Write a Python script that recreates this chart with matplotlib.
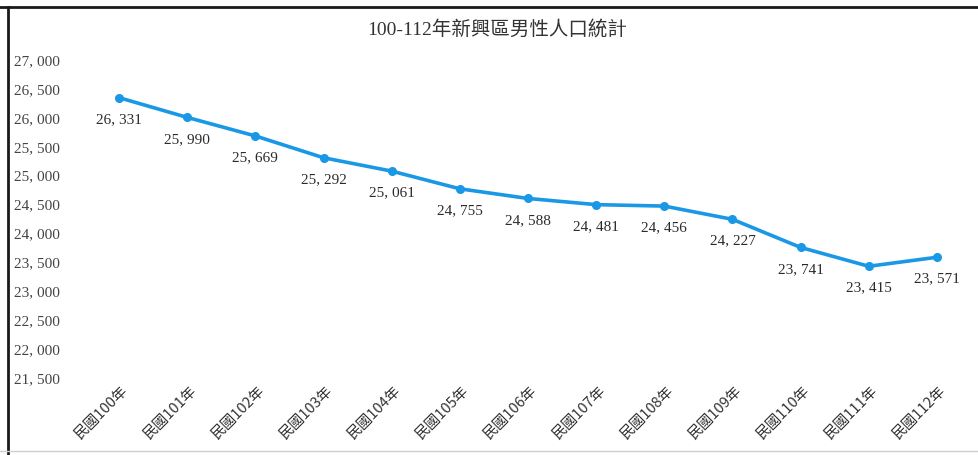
import matplotlib
matplotlib.use("Agg")
import matplotlib.pyplot as plt
import matplotlib.transforms as mtransforms
from matplotlib.lines import Line2D

years = ["民國100年", "民國101年", "民國102年", "民國103年", "民國104年",
         "民國105年", "民國106年", "民國107年", "民國108年", "民國109年",
         "民國110年", "民國111年", "民國112年"]
male_pop = [26331, 25990, 25669, 25292, 25061, 24755, 24588,
            24481, 24456, 24227, 23741, 23415, 23571]
yticks = [21500, 22000, 22500, 23000, 23500, 24000, 24500,
          25000, 25500, 26000, 26500, 27000]

fam = ["Liberation Serif", "Noto Sans CJK TC", "DejaVu Sans"]
txt = "#2b2b2b"
blue = "#1a98e6"


def fmt(v):
    return f"{v:,}".replace(",", ", ")


fig = plt.figure(figsize=(9.79, 4.56), dpi=100)
ax = fig.add_axes([85 / 979, 78 / 456, 886 / 979, 318 / 456])

x = list(range(len(years)))
ax.plot(x, male_pop, color=blue, lw=2.6, marker="o", ms=5.5, solid_capstyle="round")
for xi, v in zip(x, male_pop):
    ax.annotate(fmt(v), (xi, v), xytext=(0, -15), textcoords="offset points",
                ha="center", va="center", fontsize=11, color=txt, family=fam)

ax.set_xlim(-0.5, len(years) - 0.5)
ax.set_ylim(21500, 27000)
ax.set_yticks(yticks)
ax.set_yticklabels([fmt(v) for v in yticks], family=fam, fontsize=11, color="#444444", ha="left")
ax.tick_params(axis="y", length=0, pad=51)
ax.set_xticks(x)
ax.set_xticklabels(years, rotation=45, ha="right", va="center", rotation_mode="anchor",
                   family=["Noto Sans CJK TC", "DejaVu Sans"], fontsize=10.5, color="#333333")
ax.tick_params(axis="x", length=0, pad=7)
shift = mtransforms.ScaledTranslation(7 / 100, 0, fig.dpi_scale_trans)
for lbl in ax.get_xticklabels():
    lbl.set_transform(lbl.get_transform() + shift)
for s in ax.spines.values():
    s.set_visible(False)

fig.text(497 / 979, 1 - 29 / 456, "100-112年新興區男性人口統計", ha="center", va="center",
         fontsize=14, color="#333333", family=fam)

# scanned frame lines
fig.add_artist(Line2D([0, 1], [1 - 8 / 456] * 2, transform=fig.transFigure, color="#1a1a1a", lw=2))
fig.add_artist(Line2D([8 / 979] * 2, [0, 1 - 8 / 456], transform=fig.transFigure, color="#1a1a1a", lw=2))
fig.add_artist(Line2D([0, 1], [4 / 456] * 2, transform=fig.transFigure, color="#cfcfcf", lw=1))

fig.savefig("out.png", dpi=100)
